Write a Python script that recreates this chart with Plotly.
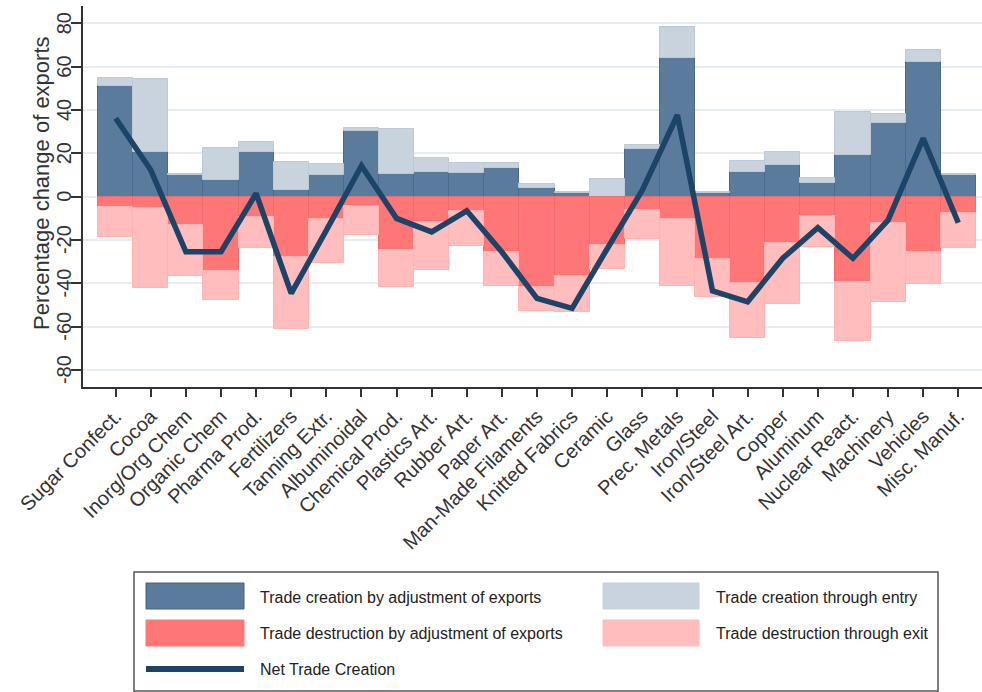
import plotly.graph_objects as go

categories = ["Sugar Confect.", "Cocoa", "Inorg/Org Chem", "Organic Chem", "Pharma Prod.",
              "Fertilizers", "Tanning Extr.", "Albuminoidal", "Chemical Prod.", "Plastics Art.",
              "Rubber Art.", "Paper Art.", "Man-Made Filaments", "Knitted Fabrics", "Ceramic",
              "Glass", "Prec. Metals", "Iron/Steel", "Iron/Steel Art.", "Copper", "Aluminum",
              "Nuclear React.", "Machinery", "Vehicles", "Misc. Manuf."]

creation_adjustment = [51.1, 20.8, 10.0, 7.7, 20.8, 3.1, 10.0, 30.3, 10.5, 11.5, 10.8, 13.1,
                       3.9, 1.8, 0.0, 21.9, 63.9, 1.5, 11.2, 14.6, 6.5, 19.2, 33.9, 62.3, 10.2]
creation_entry = [3.8, 33.5, 0.5, 14.9, 4.6, 12.8, 5.1, 1.3, 20.6, 6.2, 4.6, 2.6,
                  2.1, 0.5, 8.0, 2.0, 14.6, 0.5, 5.3, 5.9, 2.0, 19.7, 4.1, 5.4, 0.3]
destruction_adjustment = [-4.6, -5.4, -13.1, -34.1, -9.2, -27.7, -10.3, -4.2, -24.6, -11.5, -6.5, -25.7,
                          -41.8, -36.6, -22.3, -6.1, -10.4, -28.9, -40.0, -21.2, -8.9, -39.2, -12.0, -25.7, -7.4]
destruction_exit = [-13.9, -36.9, -23.5, -13.6, -14.6, -33.5, -20.4, -13.5, -16.9, -22.3, -16.1, -15.5,
                    -10.8, -16.8, -11.1, -13.4, -30.7, -17.5, -25.3, -28.5, -14.5, -27.4, -36.5, -14.7, -16.4]
net_trade_creation = [36.2, 12.3, -25.4, -25.4, 1.5, -44.6, -15.5, 14.3, -10.0, -16.2, -6.5, -25.5,
                      -46.9, -51.5, -24.0, 3.0, 37.7, -43.4, -48.5, -28.4, -14.3, -28.4, -10.8, 26.9, -12.0]

y_ticks = [-80, -60, -40, -20, 0, 20, 40, 60, 80]
y_tick_labels = ["-80", "-60", "-40", "-20", "0", "20", "40", "60", "80"]
y_title = "Percentage change of exports"

legend_labels = ["Trade creation by adjustment of exports", "Trade creation through entry",
                 "Trade destruction by adjustment of exports", "Trade destruction through exit",
                 "Net Trade Creation"]

C_DARK_BLUE = "#5b7b9c"
C_LIGHT_BLUE = "#c8d3de"
C_DARK_RED = "#ff7676"
C_LIGHT_RED = "#ffbdbd"
C_LINE = "#1b4468"
C_TEXT = "#333333"
FONT = "Liberation Sans, Arial"

W, H = 982, 692
PL, PR, PT, PB = 83, 982, 6, 387

x_idx = list(range(len(categories)))

fig = go.Figure()
fig.add_trace(go.Bar(x=x_idx, y=creation_adjustment, name=legend_labels[0], marker_color=C_DARK_BLUE,
                     marker_line=dict(color="#4a6a8b", width=1), width=1, showlegend=False))
fig.add_trace(go.Bar(x=x_idx, y=creation_entry, name=legend_labels[1], marker_color=C_LIGHT_BLUE,
                     marker_line=dict(color="#bccad7", width=1), width=1, showlegend=False))
fig.add_trace(go.Bar(x=x_idx, y=destruction_adjustment, name=legend_labels[2], marker_color=C_DARK_RED,
                     marker_line=dict(color="#f46a6a", width=1), width=1, showlegend=False))
fig.add_trace(go.Bar(x=x_idx, y=destruction_exit, name=legend_labels[3], marker_color=C_LIGHT_RED,
                     marker_line=dict(color="#ffb4b4", width=1), width=1, showlegend=False))
fig.add_trace(go.Scatter(x=x_idx, y=net_trade_creation, name=legend_labels[4], mode="lines",
                         line=dict(color=C_LINE, width=5.5), showlegend=False))

x0, x1 = -0.931, 24.676
y0, y1 = -87.8, 88.0


def px_x(px):
    return (px - PL) / (PR - PL)


def px_y(py):
    return (PB - py) / (PB - PT)


shapes = []
annotations = []

# rotated y tick labels (placed on the y scale)
for v, t in zip(y_ticks, y_tick_labels):
    annotations.append(dict(text=t, xref="paper", yref="y", x=px_x(64), y=v,
                            xanchor="center", yanchor="middle", textangle=-90, showarrow=False,
                            font=dict(size=20, color=C_TEXT, family=FONT)))
# y axis title
annotations.append(dict(text=y_title, xref="paper", yref="paper", x=px_x(42), y=px_y(183),
                        xanchor="center", yanchor="middle", textangle=-90, showarrow=False,
                        font=dict(size=22, color=C_TEXT, family=FONT)))

# legend
shapes.append(dict(type="rect", xref="paper", yref="paper", x0=px_x(134), x1=px_x(938),
                   y0=px_y(691), y1=px_y(572), line=dict(color="#555555", width=1.5),
                   fillcolor="white", layer="above"))
sw = [(146, 244, 583, 609, C_DARK_BLUE, "#44627f"), (603, 699, 583, 609, C_LIGHT_BLUE, C_LIGHT_BLUE),
      (146, 244, 620, 646, C_DARK_RED, C_DARK_RED), (603, 699, 620, 646, C_LIGHT_RED, C_LIGHT_RED)]
for (a, b, c, d, fc, lc) in sw:
    shapes.append(dict(type="rect", xref="paper", yref="paper", x0=px_x(a), x1=px_x(b),
                       y0=px_y(d), y1=px_y(c), fillcolor=fc, line=dict(color=lc, width=1), layer="above"))
shapes.append(dict(type="line", xref="paper", yref="paper", x0=px_x(146), x1=px_x(244),
                   y0=px_y(669), y1=px_y(669), line=dict(color=C_LINE, width=6), layer="above"))
text_pos = [(258, 597), (714, 597), (258, 633), (714, 633), (258, 669)]
for lab, (tx, ty) in zip(legend_labels, text_pos):
    annotations.append(dict(text=lab, xref="paper", yref="paper", x=px_x(tx), y=px_y(ty),
                            xanchor="left", yanchor="middle", showarrow=False,
                            font=dict(size=16, color="#222222", family=FONT)))

fig.update_layout(
    width=W, height=H,
    margin=dict(l=PL, r=W - PR, t=PT, b=H - PB, autoexpand=False),
    paper_bgcolor="white", plot_bgcolor="white",
    barmode="relative", bargap=0,
    font=dict(family=FONT, color=C_TEXT, size=20),
    xaxis=dict(range=[x0, x1], tickmode="array", tickvals=x_idx, ticktext=categories,
               tickangle=-45, ticks="outside", ticklen=8, tickwidth=1.5, tickcolor=C_TEXT,
               showline=True, linecolor=C_TEXT, linewidth=1.5, showgrid=False, zeroline=False,
               tickfont=dict(size=20, color=C_TEXT), automargin=False),
    yaxis=dict(range=[y0, y1], tickmode="array", tickvals=y_ticks, showticklabels=False,
               ticks="outside", ticklen=10, tickwidth=1.5, tickcolor=C_TEXT,
               showline=True, linecolor=C_TEXT, linewidth=1.5,
               showgrid=True, gridcolor="#e6edf2", gridwidth=1.5, zeroline=False,
               automargin=False),
    shapes=shapes, annotations=annotations,
)

fig.write_html("out.html")
